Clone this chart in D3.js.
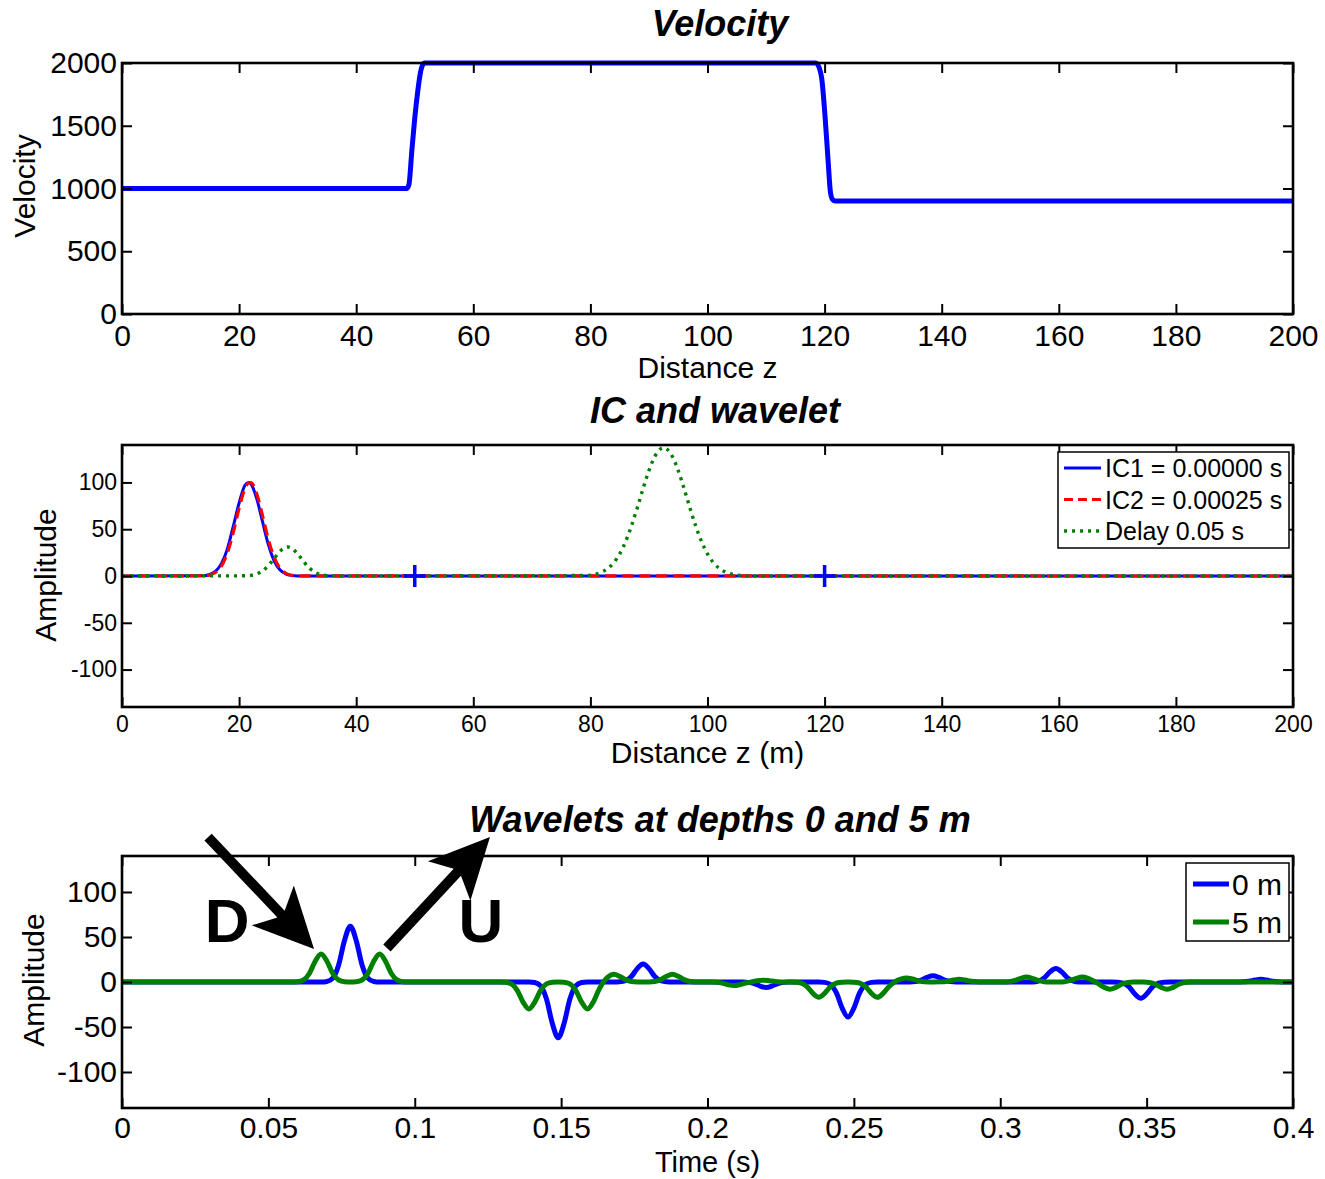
<!DOCTYPE html>
<html>
<head>
<meta charset="utf-8">
<script src="https://cdn.jsdelivr.net/npm/d3@7"></script>
<style>
  body { margin: 0; background: #fff; }
  svg { display: block; }
  text { font-family: "Liberation Sans", Arial, Helvetica, sans-serif; fill: #000; }
</style>
</head>
<body>
<svg id="fig" width="1325" height="1179"></svg>
<script>
// ---------- Velocity model ----------
const velZ = [0, 48.6, 49.0, 49.5, 50.0, 50.5, 51.0, 51.3, 51.7,
              118.5, 119.1, 119.5, 120.1, 120.6, 121.0, 121.4, 121.8, 200];
const velV = [1000, 1000, 1030, 1300, 1560, 1770, 1930, 1980, 2000,
              2000, 1960, 1880, 1560, 1220, 970, 910, 900, 900];

// ---------- Initial conditions and delayed wavefield ----------
const icZ  = [0, 14, 15, 16, 17, 18, 19, 20, 21, 21.6, 22, 23, 24, 25, 26, 27, 28, 29, 30, 200];
const ic1  = [0, 0.4, 1.6, 5.2, 13.5, 29, 53, 78, 97, 100, 98.5, 83, 58, 33.5, 16, 6.3, 2.1, 0.6, 0.1, 0];
const ic2  = [0, 0.3, 1.2, 4.0, 10.8, 24.6, 46.4, 72.4, 93.4, 99.4, 99.8, 88.2, 64.6, 39.1, 19.6, 8.2, 2.8, 0.8, 0.2, 0];
const delayZ = [0, 21, 22, 23, 24, 25, 26, 27, 28, 28.3, 29, 30, 31, 32, 33, 34, 35, 36,
                79, 80, 81, 82, 83, 84, 85, 86, 87, 88, 89, 90, 91, 92, 92.5, 93, 94, 95, 96,
                97, 98, 99, 100, 101, 102, 103, 104, 105, 106, 107, 200];
const delayA = [0, 0.2, 0.7, 2.2, 5.4, 11.1, 18.8, 26.4, 30.7, 31, 29.6, 23.6, 15.6, 8.5, 3.9, 1.4, 0.4, 0.1,
                0.5, 1.0, 2.2, 4.4, 8.2, 14.3, 23.6, 36.6, 53.2, 72.8, 93.4, 112.7, 127.7, 135.9, 137, 135.9, 127.7, 112.7, 93.4,
                72.8, 53.2, 36.6, 23.6, 14.3, 8.2, 4.4, 2.2, 1.0, 0.5, 0, 0];
const interfaceZ = [50, 120];
const icLegend = ["IC1 = 0.00000 s", "IC2 = 0.00025 s", "Delay 0.05 s"];

// ---------- Recorded wavelets ----------
const t0 = [0, 0.068, 0.070, 0.072, 0.074, 0.076, 0.078, 0.080, 0.082, 0.084, 0.086, 0.088,
            0.139, 0.141, 0.143, 0.145, 0.147, 0.149, 0.151, 0.153, 0.155, 0.157, 0.159,
            0.168, 0.170, 0.172, 0.174, 0.176, 0.178, 0.180, 0.182, 0.184, 0.186, 0.188,
            0.212, 0.214, 0.216, 0.218, 0.220, 0.222, 0.224, 0.226, 0.228,
            0.238, 0.240, 0.242, 0.244, 0.246, 0.248, 0.250, 0.252, 0.254, 0.256, 0.258,
            0.269, 0.271, 0.273, 0.275, 0.277, 0.279, 0.281, 0.283, 0.285,
            0.309, 0.311, 0.313, 0.315, 0.317, 0.319, 0.321, 0.323, 0.325, 0.327, 0.329,
            0.338, 0.340, 0.342, 0.344, 0.346, 0.348, 0.350, 0.352, 0.354, 0.356, 0.358,
            0.381, 0.383, 0.385, 0.387, 0.389, 0.391, 0.393, 0.395, 0.397, 0.4];
const a0 = [0, 0, 0.6, 4.3, 19, 46.1, 62, 46.1, 19, 4.3, 0.6, 0,
            0, -0.6, -4.3, -19, -46.1, -62, -46.1, -19, -4.3, -0.6, 0,
            0, 0.2, 1.4, 6.1, 14.9, 20, 14.9, 6.1, 1.4, 0.2, 0,
            0, -0.4, -1.8, -4.5, -6, -4.5, -1.8, -0.4, 0,
            0, -0.4, -2.7, -11.9, -29, -39, -29, -11.9, -2.7, -0.4, 0,
            0, 0.5, 2.1, 5.2, 7, 5.2, 2.1, 0.5, 0,
            0, 0.1, 1.1, 4.6, 11.2, 15, 11.2, 4.6, 1.1, 0.1, 0,
            0, -0.2, -1.3, -5.5, -13.4, -18, -13.4, -5.5, -1.3, -0.2, 0,
            0, 0.2, 0.9, 2.2, 3, 2.2, 0.9, 0.2, 0, 0];
const t5 = [0, 0.058, 0.060, 0.062, 0.064, 0.066, 0.068, 0.070, 0.072, 0.074, 0.076, 0.078,
            0.080, 0.082, 0.084, 0.086, 0.088, 0.090, 0.092, 0.094, 0.096, 0.098,
            0.129, 0.131, 0.133, 0.135, 0.137, 0.139, 0.141, 0.143, 0.145, 0.147, 0.149,
            0.151, 0.153, 0.155, 0.157, 0.159, 0.161, 0.163, 0.1645, 0.166, 0.168, 0.170, 0.172, 0.174, 0.176,
            0.180, 0.182, 0.184, 0.186, 0.188, 0.190, 0.192, 0.194, 0.196, 0.198,
            0.201, 0.203, 0.205, 0.207, 0.209, 0.211, 0.213, 0.215, 0.217, 0.219, 0.221, 0.223, 0.225, 0.227,
            0.230, 0.232, 0.234, 0.236, 0.238, 0.240, 0.242, 0.244, 0.246, 0.248,
            0.250, 0.252, 0.254, 0.256, 0.258, 0.260, 0.262, 0.264, 0.266, 0.268, 0.270, 0.272, 0.274, 0.277,
            0.280, 0.282, 0.284, 0.286, 0.288, 0.290, 0.292, 0.294,
            0.299, 0.301, 0.303, 0.305, 0.307, 0.309, 0.311, 0.313, 0.315, 0.317,
            0.320, 0.322, 0.324, 0.326, 0.328, 0.330, 0.332, 0.3335, 0.3355, 0.3375, 0.3395, 0.3415, 0.3435, 0.3455,
            0.349, 0.351, 0.353, 0.355, 0.357, 0.359, 0.361, 0.363, 0.365, 0.367, 0.4];
const a5 = [0, 0, 0.3, 2.2, 9.5, 23.1, 31, 23.1, 9.5, 2.2, 0.3, 0,
            0.3, 2.2, 9.5, 23.1, 31, 23.1, 9.5, 2.2, 0.3, 0,
            0, -0.3, -2.1, -9.2, -22.3, -30, -22.3, -9.2, -2.1, -0.3, 0,
            -0.3, -2.1, -9.2, -22.3, -30, -22.3, -7.9, 0.2, 5.5, 8.5, 6.3, 2.6, 0.6, 0.1,
            0.1, 0.6, 2.6, 6.3, 8.5, 6.3, 2.6, 0.6, 0.1, 0,
            0, -0.3, -1.2, -3.0, -4, -3.0, -1.1, 0, 1.5, 2, 1.5, 0.6, 0.1, 0,
            -0.2, -1.2, -5.2, -12.6, -17, -12.6, -5.2, -1.2, -0.2, 0,
            -0.2, -1.2, -5.2, -12.6, -17, -12.6, -4.9, 0.2, 3.1, 4.5, 3.3, 1.4, 0.3, 0.1,
            0.2, 0.9, 2.2, 3, 2.2, 0.9, 0.2, 0,
            0, 0.05, 0.4, 1.7, 4.1, 5.5, 4.1, 1.7, 0.4, 0.05,
            0.05, 0.4, 1.7, 4.1, 5.5, 4.0, 0.85, -1.9, -5.9, -8, -5.95, -2.45, -0.56, -0.07,
            -0.07, -0.56, -2.45, -5.95, -8, -5.95, -2.45, -0.56, -0.07, 0, 0];
const waveLegend = ["0 m", "5 m"];

// Annotation arrows for the direct (D) and up-going (U) arrivals, in (time, amplitude)
const arrowD = { tail: [0.0294, 161], tip: [0.0656, 36.7] };
const arrowU = { tail: [0.0905, 37.8], tip: [0.1257, 161] };
const labelD = [0.0359, 44.4];
const labelU = [0.1226, 44.4];

// ---------- Tick values ----------
const zTicks = [0, 20, 40, 60, 80, 100, 120, 140, 160, 180, 200];
const velTicks = [0, 500, 1000, 1500, 2000];
const ampTicks = [-100, -50, 0, 50, 100];
const timeTicks = [0, 0.05, 0.1, 0.15, 0.2, 0.25, 0.3, 0.35, 0.4];

const BLUE = "#0000ff", RED = "#ff0000", GREEN = "#008000";
const svg = d3.select("#fig");
const X0 = 122, X1 = 1293;

function pairs(xs, ys) { return xs.map((v, i) => [v, ys[i]]); }

// Frame, ticks on all four sides, tick labels
function frame(g, x, y, xt, yt, fmtX, fmtY, fs, padX, padY) {
  const [b, t] = y.range();
  const ax = g.append("g");
  ax.append("g").attr("transform", `translate(0,${b})`)
    .call(d3.axisBottom(x).tickValues(xt).tickFormat(fmtX).tickSizeInner(-10).tickSizeOuter(0).tickPadding(padX));
  ax.append("g").attr("transform", `translate(0,${t})`)
    .call(d3.axisTop(x).tickValues(xt).tickFormat("").tickSizeInner(-10).tickSizeOuter(0));
  ax.append("g").attr("transform", `translate(${X0},0)`)
    .call(d3.axisLeft(y).tickValues(yt).tickFormat(fmtY).tickSizeInner(-10).tickSizeOuter(0).tickPadding(padY));
  ax.append("g").attr("transform", `translate(${X1},0)`)
    .call(d3.axisRight(y).tickValues(yt).tickFormat("").tickSizeInner(-10).tickSizeOuter(0));
  ax.selectAll(".domain").remove();
  ax.selectAll(".tick line").attr("stroke", "#000").attr("stroke-width", 2);
  ax.selectAll(".tick text").attr("font-size", fs).attr("fill", "#000")
    .attr("font-family", '"Liberation Sans", Arial, sans-serif');
  g.append("rect").attr("x", X0).attr("y", t).attr("width", X1 - X0).attr("height", b - t)
    .attr("fill", "none").attr("stroke", "#000").attr("stroke-width", 2.6);
}

function title(txt, cx, by) {
  svg.append("text").attr("x", cx).attr("y", by).attr("text-anchor", "middle")
    .attr("font-size", 36).attr("font-weight", "bold").attr("font-style", "italic").text(txt);
}
function xlabel(txt, by, fs = 30) {
  svg.append("text").attr("x", (X0 + X1) / 2).attr("y", by).attr("text-anchor", "middle")
    .attr("font-size", fs).text(txt);
}
function ylabel(txt, bx, cy) {
  svg.append("text").attr("transform", `translate(${bx},${cy}) rotate(-90)`)
    .attr("text-anchor", "middle").attr("font-size", 30).text(txt);
}
const intFmt = d => String(d);

// ================= Panel 1: velocity =================
{
  const x = d3.scaleLinear().domain([0, 200]).range([X0, X1]);
  const y = d3.scaleLinear().domain([0, 2000]).range([314, 63]);
  const g = svg.append("g");
  g.append("path").datum(pairs(velZ, velV))
    .attr("d", d3.line().x(d => x(d[0])).y(d => y(d[1])).curve(d3.curveMonotoneX))
    .attr("fill", "none").attr("stroke", BLUE).attr("stroke-width", 5).attr("stroke-linejoin", "round");
  frame(g, x, y, zTicks, velTicks, intFmt, intFmt, 30, 11, 5);
  title("Velocity", 720, 36);
  xlabel("Distance z", 378);
  ylabel("Velocity", 35, 186);
}

// ================= Panel 2: IC and wavelet =================
{
  const x = d3.scaleLinear().domain([0, 200]).range([X0, X1]);
  const y = d3.scaleLinear().domain([-140, 140]).range([707, 445]);
  const g = svg.append("g");
  const line = d3.line().x(d => x(d[0])).y(d => y(d[1])).curve(d3.curveMonotoneX);
  g.append("path").datum(pairs(icZ, ic1)).attr("d", line)
    .attr("fill", "none").attr("stroke", BLUE).attr("stroke-width", 3);
  g.append("path").datum(pairs(icZ, ic2)).attr("d", line)
    .attr("fill", "none").attr("stroke", RED).attr("stroke-width", 3.2).attr("stroke-dasharray", "11,6");
  g.append("path").datum(pairs(delayZ, delayA)).attr("d", line)
    .attr("fill", "none").attr("stroke", GREEN).attr("stroke-width", 3.4).attr("stroke-dasharray", "3,5");
  // interface markers
  g.selectAll("path.mk").data(interfaceZ).enter().append("path").attr("class", "mk")
    .attr("d", z => { const cx = x(z), cy = y(0), s = 11;
      return `M${cx - s},${cy}L${cx + s},${cy}M${cx},${cy - s}L${cx},${cy + s}`; })
    .attr("stroke", BLUE).attr("stroke-width", 3.5).attr("fill", "none");
  frame(g, x, y, zTicks, ampTicks, intFmt, intFmt, 23, 9, 5);
  title("IC and wavelet", 715, 423);
  xlabel("Distance z (m)", 763);
  ylabel("Amplitude", 56, 575);

  // legend
  const lg = svg.append("g");
  lg.append("rect").attr("x", 1058).attr("y", 452).attr("width", 231).attr("height", 96)
    .attr("fill", "#fff").attr("stroke", "#000").attr("stroke-width", 1.5);
  const styles = [[BLUE, null, 3], [RED, "9,5", 3], [GREEN, "3,5", 3.4]];
  icLegend.forEach((lab, i) => {
    const cy = 468 + i * 31.5;
    const ln = lg.append("line").attr("x1", 1064).attr("x2", 1101).attr("y1", cy).attr("y2", cy)
      .attr("stroke", styles[i][0]).attr("stroke-width", styles[i][2]);
    if (styles[i][1]) ln.attr("stroke-dasharray", styles[i][1]);
    lg.append("text").attr("x", 1105).attr("y", cy + 9).attr("font-size", 25).text(lab);
  });
}

// ================= Panel 3: wavelets =================
{
  const x = d3.scaleLinear().domain([0, 0.4]).range([X0, X1]);
  const y = d3.scaleLinear().domain([-140, 140]).range([1108, 856]);
  const g = svg.append("g");
  const line = d3.line().x(d => x(d[0])).y(d => y(d[1])).curve(d3.curveMonotoneX);
  g.append("path").datum(pairs(t0, a0)).attr("d", line)
    .attr("fill", "none").attr("stroke", BLUE).attr("stroke-width", 5).attr("stroke-linejoin", "round");
  g.append("path").datum(pairs(t5, a5)).attr("d", line)
    .attr("fill", "none").attr("stroke", GREEN).attr("stroke-width", 5).attr("stroke-linejoin", "round");
  frame(g, x, y, timeTicks, ampTicks, d3.format("~g"), intFmt, 30, 9, 5);
  title("Wavelets at depths 0 and 5 m", 720, 832);
  xlabel("Time (s)", 1172, 29);
  ylabel("Amplitude", 44, 980);

  // arrows
  function arrowPath(a) {
    const x0 = x(a.tail[0]), y0 = y(a.tail[1]), x1 = x(a.tip[0]), y1 = y(a.tip[1]);
    const L = Math.hypot(x1 - x0, y1 - y0), ux = (x1 - x0) / L, uy = (y1 - y0) / L;
    const nx = -uy, ny = ux, hl = 60, hw = 29, notch = 12, sw = 5;
    const bx = x1 - ux * hl, by = y1 - uy * hl;
    const pts = [
      [x0 + nx * sw, y0 + ny * sw],
      [bx + ux * notch + nx * sw, by + uy * notch + ny * sw],
      [bx + nx * hw, by + ny * hw],
      [x1, y1],
      [bx - nx * hw, by - ny * hw],
      [bx + ux * notch - nx * sw, by + uy * notch - ny * sw],
      [x0 - nx * sw, y0 - ny * sw]
    ];
    return d3.line()(pts) + "Z";
  }
  [arrowD, arrowU].forEach(a => {
    svg.append("path").attr("d", arrowPath(a)).attr("fill", "#000").attr("stroke", "none");
  });
  [[labelD, "D"], [labelU, "U"]].forEach(([p, s]) => {
    svg.append("text").attr("x", x(p[0])).attr("y", y(p[1])).attr("text-anchor", "middle")
      .attr("font-size", 62).attr("font-weight", "bold").text(s);
  });

  // legend
  const lg = svg.append("g");
  lg.append("rect").attr("x", 1186).attr("y", 863).attr("width", 103).attr("height", 78)
    .attr("fill", "#fff").attr("stroke", "#000").attr("stroke-width", 1.5);
  [BLUE, GREEN].forEach((c, i) => {
    const cy = 884 + i * 38;
    lg.append("line").attr("x1", 1193).attr("x2", 1229).attr("y1", cy).attr("y2", cy)
      .attr("stroke", c).attr("stroke-width", 5);
    lg.append("text").attr("x", 1232).attr("y", cy + 11).attr("font-size", 30).text(waveLegend[i]);
  });
}
</script>
</body>
</html>
